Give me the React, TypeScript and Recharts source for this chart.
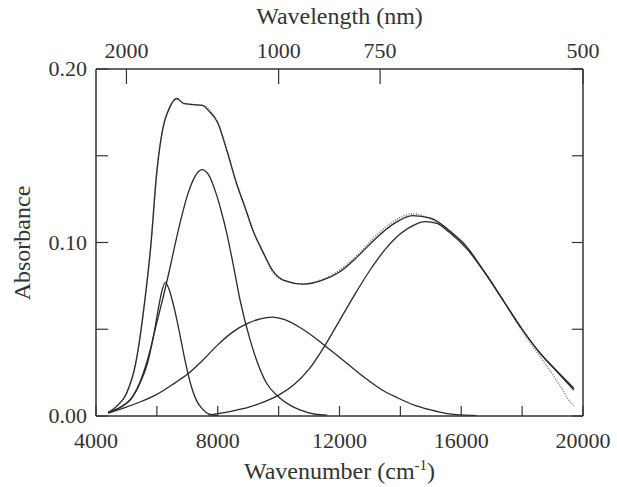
import React from "react"
import { LineChart, Line, XAxis, YAxis } from "recharts"

// axis ticks
const wnTicks = [4000, 6000, 8000, 10000, 12000, 14000, 16000, 18000, 20000]
const wnLabels = [4000, 8000, 12000, 16000, 20000]
const nmTicks = [2000, 1000, 750, 500]
const absTicks = [0, 0.05, 0.1, 0.15, 0.2]
const absLabels = [0, 0.1, 0.2]

const dataWn = [4400, 4700, 5000, 5300, 5600, 5800, 6000, 6200, 6400, 6650, 6900, 7200, 7500, 7800, 8000, 8300, 8600, 8900, 9200, 9500, 9800, 10200, 10800, 11400, 12000, 12600, 13200, 13800, 14400, 15000, 15600, 16200, 16800, 17400, 18000, 18600, 19000, 19300, 19500, 19700]
const dataAbs = [0.002, 0.006, 0.013, 0.03, 0.066, 0.098, 0.141, 0.166, 0.177, 0.183, 0.18, 0.1795, 0.179, 0.175, 0.169, 0.153, 0.135, 0.12, 0.105, 0.094, 0.083, 0.078, 0.076, 0.0785, 0.084, 0.093, 0.104, 0.1125, 0.1165, 0.1135, 0.1065, 0.097, 0.082, 0.066, 0.049, 0.034, 0.024, 0.016, 0.01, 0.006]

// fitted sum
const fitWn = [4400, 4700, 5000, 5300, 5600, 5800, 6000, 6200, 6400, 6650, 6900, 7200, 7500, 7700, 8000, 8300, 8600, 8900, 9200, 9500, 9800, 10200, 10800, 11400, 12000, 12600, 13200, 13800, 14400, 15000, 15600, 16200, 16800, 17400, 18000, 18600, 19200, 19700]
const fitAbs = [0.002, 0.006, 0.013, 0.03, 0.066, 0.098, 0.141, 0.166, 0.177, 0.183, 0.18, 0.1795, 0.179, 0.176, 0.169, 0.153, 0.135, 0.12, 0.105, 0.094, 0.084, 0.078, 0.076, 0.078, 0.083, 0.092, 0.1025, 0.111, 0.1155, 0.114, 0.107, 0.097, 0.082, 0.066, 0.05, 0.036, 0.0245, 0.015]

// gaussian components
const band1Wn = [4400, 4800, 5200, 5500, 5700, 5900, 6050, 6150, 6280, 6400, 6500, 6650, 6800, 6950, 7100, 7300, 7500, 7700, 8000]
const band1Abs = [0.002, 0.005, 0.011, 0.021, 0.031, 0.047, 0.062, 0.071, 0.077, 0.073, 0.067, 0.056, 0.043, 0.03, 0.019, 0.009, 0.004, 0.0012, 0.0002]

const band2Wn = [4400, 4800, 5200, 5500, 5750, 6000, 6200, 6400, 6600, 6800, 7000, 7250, 7480, 7700, 7950, 8100, 8300, 8500, 8730, 9060, 9300, 9600, 10000, 10400, 10700, 11200, 11600]
const band2Abs = [0.002, 0.005, 0.011, 0.022, 0.036, 0.054, 0.068, 0.083, 0.099, 0.114, 0.127, 0.138, 0.142, 0.139, 0.128, 0.119, 0.105, 0.088, 0.067, 0.044, 0.031, 0.019, 0.011, 0.006, 0.0035, 0.001, 0.0005]

const band3Wn = [4400, 4900, 5500, 6000, 6500, 7000, 7500, 8000, 8500, 9000, 9400, 9800, 10200, 10700, 11200, 11700, 12200, 12800, 13400, 13900, 14500, 15000, 15500, 16000, 16500]
const band3Abs = [0.0017, 0.0045, 0.0085, 0.0125, 0.018, 0.024, 0.032, 0.041, 0.0485, 0.0535, 0.056, 0.057, 0.0555, 0.051, 0.045, 0.038, 0.031, 0.0225, 0.015, 0.0105, 0.006, 0.0035, 0.0015, 0.0006, 0.0002]

const band4Wn = [7700, 8500, 9000, 9500, 10000, 10500, 11000, 11500, 12000, 12500, 13000, 13500, 14000, 14500, 14800, 15200, 15600, 16200, 16800, 17400, 18000, 18600, 19200, 19700]
const band4Abs = [0.0005, 0.003, 0.005, 0.008, 0.012, 0.018, 0.027, 0.04, 0.055, 0.07, 0.084, 0.096, 0.105, 0.1105, 0.112, 0.111, 0.106, 0.096, 0.082, 0.066, 0.05, 0.036, 0.025, 0.016]

const ink = "#333"
const font = "'Liberation Serif', 'Times New Roman', Times, 'DejaVu Serif', serif"

const pts = (xs: number[], ys: number[]) => xs.map((x, i) => ({ wn: x, a: ys[i] }))

const BottomTick = ({ x, y, payload }: any) => (
  <g>
    <line x1={x} y1={y} x2={x} y2={y - 10} stroke={ink} strokeWidth={1.2} />
    {wnLabels.includes(payload.value) && (
      <text x={x} y={y + 32} textAnchor="middle" fontSize={22} fontFamily={font} fill={ink}>
        {payload.value}
      </text>
    )}
  </g>
)

const TopTick = ({ x, y, payload }: any) => (
  <g>
    <line x1={x} y1={y} x2={x} y2={y + 15} stroke={ink} strokeWidth={1.2} />
    <text x={x} y={y - 11} textAnchor="middle" fontSize={22} fontFamily={font} fill={ink}>
      {Math.round(1e7 / payload.value)}
    </text>
  </g>
)

const LeftTick = ({ x, y, payload }: any) => (
  <g>
    <line x1={x} y1={y} x2={x + 12} y2={y} stroke={ink} strokeWidth={1.2} />
    {absLabels.includes(payload.value) && (
      <text x={x - 9} y={y + 7} textAnchor="end" fontSize={22} fontFamily={font} fill={ink}>
        {payload.value.toFixed(2)}
      </text>
    )}
  </g>
)

const RightTick = ({ x, y }: any) => (
  <line x1={x} y1={y} x2={x - 11} y2={y} stroke={ink} strokeWidth={1.2} />
)

const curves = [
  { id: "band1", d: pts(band1Wn, band1Abs) },
  { id: "band2", d: pts(band2Wn, band2Abs) },
  { id: "band3", d: pts(band3Wn, band3Abs) },
  { id: "band4", d: pts(band4Wn, band4Abs) },
  { id: "fit", d: pts(fitWn, fitAbs) },
]

export default function App() {
  return (
    <div style={{ position: "fixed", left: 0, top: 0, width: 617, height: 487, background: "#fff", fontFamily: font }}>
      <LineChart width={617} height={487} margin={{ top: 0, right: 0, bottom: 0, left: 0 }}>
        <XAxis
          xAxisId="bottom"
          dataKey="wn"
          type="number"
          domain={[4000, 20000]}
          ticks={wnTicks}
          interval={0}
          height={71}
          tickSize={0}
          tickMargin={0}
          tick={<BottomTick />}
          axisLine={{ stroke: ink, strokeWidth: 1.5 }}
          allowDataOverflow
        />
        <XAxis
          xAxisId="top"
          orientation="top"
          dataKey="wn"
          type="number"
          domain={[4000, 20000]}
          ticks={nmTicks.map((nm) => 1e7 / nm)}
          interval={0}
          height={69}
          tickSize={0}
          tickMargin={0}
          tick={<TopTick />}
          axisLine={{ stroke: ink, strokeWidth: 1.5 }}
          allowDataOverflow
        />
        <YAxis
          yAxisId="left"
          type="number"
          domain={[0, 0.2]}
          ticks={absTicks}
          interval={0}
          width={96}
          tickSize={0}
          tickMargin={0}
          tick={<LeftTick />}
          axisLine={{ stroke: ink, strokeWidth: 1.5 }}
          allowDataOverflow
        />
        <YAxis
          yAxisId="right"
          orientation="right"
          type="number"
          domain={[0, 0.2]}
          ticks={absTicks}
          interval={0}
          width={34}
          tickSize={0}
          tickMargin={0}
          tick={<RightTick />}
          axisLine={{ stroke: ink, strokeWidth: 1.5 }}
          allowDataOverflow
        />
        <Line
          data={pts(dataWn, dataAbs)}
          xAxisId="top"
          yAxisId="right"
          dataKey="a"
          type="monotone"
          stroke="#777"
          strokeWidth={1.6}
          strokeDasharray="1 1.5"
          dot={false}
          isAnimationActive={false}
        />
        {curves.map((c) => (
          <Line
            key={c.id}
            data={c.d}
            xAxisId="bottom"
            yAxisId="left"
            dataKey="a"
            type="monotone"
            stroke="#2a2a2a"
            strokeWidth={1.3}
            dot={false}
            isAnimationActive={false}
          />
        ))}
      </LineChart>
      <div style={{ position: "absolute", left: 96, width: 487, top: 3, textAlign: "center", fontSize: 24, color: ink }}>
        Wavelength (nm)
      </div>
      <div style={{ position: "absolute", left: 96, width: 487, top: 457, textAlign: "center", fontSize: 24, color: ink }}>
        Wavenumber (cm<sup style={{ fontSize: 15 }}>-1</sup>)
      </div>
      <div
        style={{
          position: "absolute",
          left: 22,
          top: 243,
          transform: "translate(-50%, -50%) rotate(-90deg)",
          whiteSpace: "nowrap",
          fontSize: 24,
          color: ink,
        }}
      >
        Absorbance
      </div>
    </div>
  )
}
